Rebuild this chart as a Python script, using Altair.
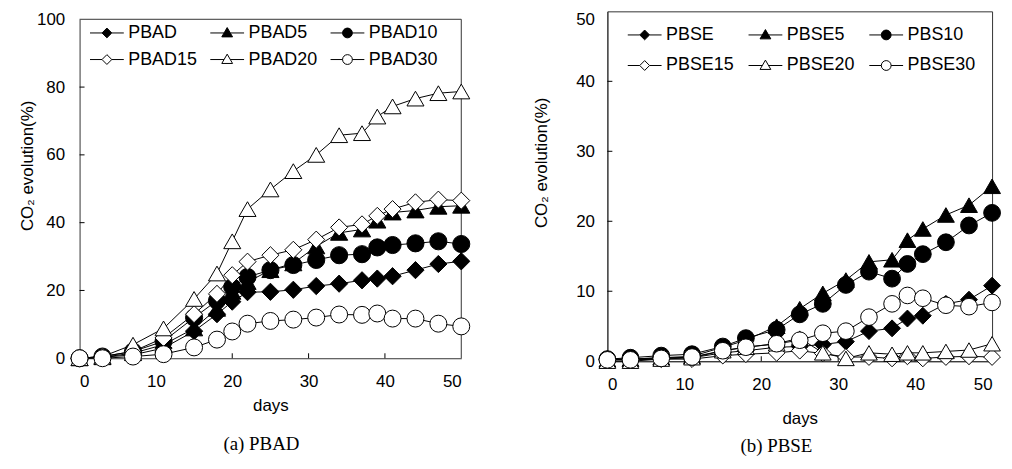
import altair as alt
import pandas as pd

# ---------------- data: panel (a) PBAD ----------------
days_a = [0, 3, 7, 11, 15, 18, 20, 22, 25, 28, 31, 34, 37, 39, 41, 44, 47, 50]
pbad   = [0, 0.3, 1.0, 3.0, 8.0, 13.0, 16.7, 19.5, 19.6, 20.2, 21.3, 22.0, 23.0, 23.5, 24.2, 26.0, 27.8, 28.6]
pbad5  = [0, 0.3, 1.5, 4.0, 8.8, 14.6, 19.6, 22.5, 26.0, 28.0, 33.0, 37.0, 38.0, 40.6, 43.0, 43.6, 44.7, 45.0]
pbad10 = [0, 0.5, 2.0, 5.0, 12.0, 17.0, 21.0, 24.0, 26.0, 27.5, 29.0, 30.4, 30.7, 32.7, 33.4, 33.9, 34.5, 33.7]
pbad15 = [0, 0.5, 2.0, 6.0, 13.0, 19.0, 24.5, 28.5, 30.4, 32.0, 35.0, 38.6, 39.5, 42.0, 44.0, 46.0, 46.8, 46.5]
pbad20 = [0, 0.5, 4.0, 8.8, 17.5, 25.0, 34.5, 44.0, 49.8, 55.2, 60.0, 65.8, 66.4, 71.3, 74.3, 76.6, 78.2, 78.7]
pbad30 = [0, 0, 0.5, 1.2, 3.2, 5.5, 7.9, 10.2, 11.0, 11.4, 12.0, 12.9, 12.8, 13.2, 11.7, 11.7, 10.2, 9.4]
names_a = ["PBAD", "PBAD5", "PBAD10", "PBAD15", "PBAD20", "PBAD30"]
yticks_a = [0, 20, 40, 60, 80, 100]

# ---------------- data: panel (b) PBSE ----------------
days_b = [0, 3, 7, 11, 15, 18, 22, 25, 28, 31, 34, 37, 39, 41, 44, 47, 50]
pbse   = [0.3, 0.3, 0.5, 0.5, 1.2, 1.5, 2.0, 2.1, 2.4, 2.8, 4.3, 4.7, 6.1, 6.5, 8.2, 8.8, 10.8]
pbse5  = [0.2, 0.3, 0.5, 0.7, 2.0, 3.0, 5.0, 7.5, 9.7, 11.6, 14.2, 14.5, 17.3, 18.9, 20.9, 22.3, 25.0]
pbs10  = [0.3, 0.5, 0.8, 1.0, 2.1, 3.3, 4.5, 6.7, 8.2, 10.9, 12.8, 11.8, 13.9, 15.3, 17.0, 19.4, 21.2]
pbse15 = [0.2, 0.2, 0.3, 0.3, 0.8, 1.0, 1.2, 1.5, 1.1, 0.6, 0.6, 0.4, 0.7, 0.4, 0.6, 0.7, 0.6]
pbse20 = [0, 0, 0.3, 0.5, 1.5, 2.0, 2.5, 3.3, 1.2, 0.4, 1.2, 1.0, 1.2, 1.2, 1.4, 1.6, 2.5]
pbse30 = [0.2, 0.2, 0.4, 0.6, 1.5, 2.0, 2.5, 3.0, 4.0, 4.3, 6.3, 8.2, 9.4, 9.0, 8.0, 7.8, 8.4]
names_b = ["PBSE", "PBSE5", "PBS10", "PBSE15", "PBSE20", "PBSE30"]
yticks_b = [0, 10, 20, 30, 40, 50]

xticks = [0, 10, 20, 30, 40, 50]

SHAPES = ["diamond", "triangle-up", "circle", "diamond", "triangle-up", "circle"]
FILLS = ["black", "black", "black", "white", "white", "white"]
SIZES = [300, 280, 230, 300, 280, 230]
FONT = "Liberation Sans"
EDGE = "#333"


def leg_path(kind, r=0.29):
    if kind == "diamond":
        m = f"M0,-{r}L{r},0L0,{r}L-{r},0Z"
        g = r
    elif kind == "triangle-up":
        m = f"M0,-{r*1.1:.3f}L{r*1.1:.3f},{r*0.8:.3f}L-{r*1.1:.3f},{r*0.8:.3f}Z"
        g = r * 0.65
    else:
        m = f"M-{r},0A{r},{r},0,1,1,{r},0A{r},{r},0,1,1,-{r},0Z"
        g = r
    return f"M-1,0L-{g:.3f},0M{g:.3f},0L1,0" + m


def long_df(days, series, names):
    rows = []
    for n, vals in zip(names, series):
        for d, v in zip(days, vals):
            rows.append({"day": d, "val": v, "series": n})
    return pd.DataFrame(rows)


def legend_def(x, y, rowpad, colpad):
    return alt.Legend(orient="none", legendX=x, legendY=y, columns=3, direction="horizontal",
                      title=None, symbolSize=1156, symbolStrokeWidth=1,
                      labelFont=FONT, labelFontSize=18, labelColor="black", labelOffset=4,
                      rowPadding=rowpad, columnPadding=colpad,
                      padding=0, labelLimit=200)


def panel(days, series, names, ytick_vals, ymax, w, h, ytop, caption, cap_x, cap_y,
          ytitle_x, ytitle_y, ylab_pad, xtitle_pad, leg_x, leg_y, leg_rowpad,
          leg_colpad, title_size, manual_frame, top_label_flush):
    df = long_df(days, series, names)
    base = alt.Chart(df)
    xs = alt.Scale(domain=[0, 50], nice=False)
    ys = alt.Scale(domain=[0, ymax], nice=False, range=[h, ytop])
    xenc = alt.X("day:Q", scale=xs, axis=alt.Axis(
        values=xticks, ticks=False, labelPadding=15, title="days",
        titlePadding=xtitle_pad, titleFontSize=17, titleFont=FONT,
        titleFontWeight="normal"))
    yaxis_kw = dict(values=ytick_vals, ticks=False, labelPadding=ylab_pad,
                    title="CO₂ evolution(%)", titleX=ytitle_x, titleY=ytitle_y,
                    titleBaseline="middle",
                    titleFontSize=title_size, titleFont=FONT, titleFontWeight="normal")
    if top_label_flush:
        yaxis_kw["labelBaseline"] = {"condition": {"test": f"datum.value == {ymax}", "value": "top"},
                                     "value": "middle"}
    yenc = alt.Y("val:Q", scale=ys, axis=alt.Axis(**yaxis_kw))

    lines = base.mark_line(color="black", strokeWidth=1).encode(
        x=xenc, y=yenc, detail="series:N")

    pts = base.mark_point(filled=True, stroke="black", strokeWidth=1, opacity=1).encode(
        x=alt.X("day:Q", scale=xs),
        y=alt.Y("val:Q", scale=ys),
        shape=alt.Shape("series:N", scale=alt.Scale(domain=names, range=SHAPES), legend=None),
        fill=alt.Fill("series:N", scale=alt.Scale(domain=names, range=FILLS), legend=None),
        size=alt.Size("series:N", scale=alt.Scale(domain=names, range=SIZES), legend=None),
    )

    ld = legend_def(leg_x, leg_y, leg_rowpad, leg_colpad)
    leg = base.mark_point(filled=False, strokeWidth=1, opacity=1).encode(
        shape=alt.Shape("series:N", scale=alt.Scale(domain=names, range=[leg_path(s) for s in SHAPES]),
                        legend=ld),
        fill=alt.Fill("series:N", scale=alt.Scale(domain=names, range=FILLS), legend=ld),
        stroke=alt.Stroke("series:N", scale=alt.Scale(domain=names, range=["black"] * 6), legend=ld),
    ).transform_filter("datum.day < 0")

    xt = alt.Chart(pd.DataFrame({"t": xticks[1:-1]})).mark_rule(color="black", strokeWidth=1).encode(
        x=alt.X("t:Q", scale=xs), y=alt.value(h), y2=alt.value(h - 5))
    yt = alt.Chart(pd.DataFrame({"t": ytick_vals[1:-1]})).mark_rule(color="black", strokeWidth=1).encode(
        y=alt.Y("t:Q", scale=ys), x=alt.value(0), x2=alt.value(5))

    cap = alt.Chart(pd.DataFrame({"c": [caption]})).mark_text(
        font="Liberation Serif", fontSize=19, color="black").encode(
        text="c:N", x=alt.value(cap_x), y=alt.value(cap_y))

    layers = [lines, xt, yt]
    if manual_frame:
        one = alt.Chart(pd.DataFrame({"k": [0]}))
        top = one.mark_rule(color=EDGE, strokeWidth=1).encode(
            x=alt.datum(0, scale=xs), x2=alt.datum(50), y=alt.datum(ymax, scale=ys))
        rgt = one.mark_rule(color=EDGE, strokeWidth=1).encode(
            x=alt.datum(50, scale=xs), y=alt.datum(0, scale=ys), y2=alt.datum(ymax))
        layers += [top, rgt]
    layers += [pts, leg, cap]

    ch = alt.layer(*layers).resolve_scale(
        shape="independent", fill="independent", stroke="independent").properties(width=w, height=h)
    if manual_frame:
        ch = ch.properties(view=alt.ViewConfig(stroke="transparent"))
    return ch


left = panel(days_a, [pbad, pbad5, pbad10, pbad15, pbad20, pbad30], names_a, yticks_a, 100,
             384, 349, 8, "(a) PBAD", 183, 435, -52, 155, 15, 9, 10, 4, -2, 10, 17,
             manual_frame=True, top_label_flush=False)
right = panel(days_b, [pbse, pbse5, pbs10, pbse15, pbse20, pbse30], names_b, yticks_b, 50,
              387, 352, 0, "(b) PBSE", 170, 437, -66, 152, 13, 19, 20, 6, 4, 11.5, 17,
              manual_frame=False, top_label_flush=True)

chart = alt.hconcat(left, right, spacing=59).properties(
    padding={"left": 10, "top": 0, "right": 0, "bottom": 0}
).configure_view(stroke=EDGE, strokeWidth=1).configure_axis(
    domainColor=EDGE, labelFont=FONT, labelFontSize=17, labelColor="black",
    titleColor="black", grid=False
)

chart.save("out.html", embed_options={"renderer": "svg", "actions": False})
